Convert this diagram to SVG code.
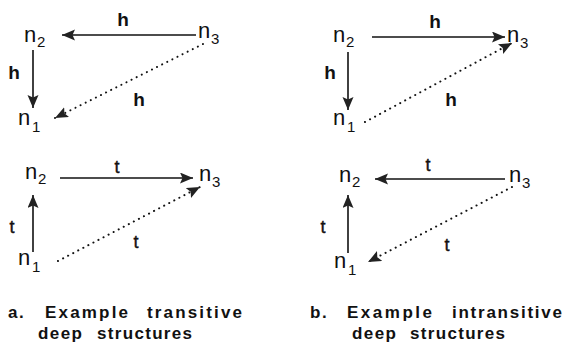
<svg xmlns="http://www.w3.org/2000/svg" width="565" height="346" viewBox="0 0 565 346">
<style>
.n{font-family:"Liberation Sans",Arial,sans-serif;font-size:22px;fill:#111}
.s{font-family:"Liberation Sans",Arial,sans-serif;font-size:15px;fill:#111}
.h{font-family:"Liberation Sans",Arial,sans-serif;font-size:19px;font-weight:bold;fill:#111;text-anchor:middle}
.t{font-family:"Liberation Sans",Arial,sans-serif;font-size:18px;fill:#111;text-anchor:middle;stroke:#111;stroke-width:0.4}
.c{font-family:"Liberation Sans",Arial,sans-serif;font-size:17px;font-weight:bold;fill:#111}
.solid{stroke:#111;stroke-width:1.6;fill:none}
.dot{stroke:#111;stroke-width:2;fill:none;stroke-linecap:round;stroke-dasharray:0.1 5.6}
</style>
<defs>
<marker id="ah" markerUnits="userSpaceOnUse" markerWidth="15" markerHeight="12" refX="13" refY="5.5" orient="auto">
<path d="M0,0 L13,5.5 L0,11 L2.5,5.5 Z" fill="#222"/>
</marker>
</defs>
<g id="connectors">
<line class="solid" x1="196" y1="35" x2="62" y2="35" marker-end="url(#ah)"/>
<line class="solid" x1="33" y1="50" x2="33" y2="108" marker-end="url(#ah)"/>
<line class="dot" x1="203" y1="44" x2="55" y2="118" marker-end="url(#ah)"/>
<line class="solid" x1="372" y1="37" x2="505" y2="37" marker-end="url(#ah)"/>
<line class="solid" x1="348" y1="52" x2="348" y2="110" marker-end="url(#ah)"/>
<line class="dot" x1="365" y1="122" x2="512" y2="43" marker-end="url(#ah)"/>
<line class="solid" x1="60" y1="178" x2="193" y2="178" marker-end="url(#ah)"/>
<line class="solid" x1="33" y1="252" x2="33" y2="195" marker-end="url(#ah)"/>
<line class="dot" x1="58" y1="261" x2="200" y2="187" marker-end="url(#ah)"/>
<line class="solid" x1="505" y1="179" x2="375" y2="179" marker-end="url(#ah)"/>
<line class="solid" x1="348" y1="253" x2="348" y2="195" marker-end="url(#ah)"/>
<line class="dot" x1="512" y1="187" x2="368" y2="262" marker-end="url(#ah)"/>
</g>
<g id="labels">
<text class="h" x="123" y="26">h</text>
<text class="h" x="14" y="79">h</text>
<text class="h" x="139" y="106">h</text>
<text class="h" x="435" y="28">h</text>
<text class="h" x="330" y="79">h</text>
<text class="h" x="451" y="106">h</text>
<text class="t" x="117" y="173">t</text>
<text class="t" x="12" y="233">t</text>
<text class="t" x="136" y="248">t</text>
<text class="t" x="428" y="171">t</text>
<text class="t" x="323" y="233">t</text>
<text class="t" x="447" y="251">t</text>
</g>
<g id="a-top-n2"><text class="n" x="24" y="42">n</text><text class="s" x="37" y="47">2</text></g>
<g id="a-top-n3"><text class="n" x="198" y="38">n</text><text class="s" x="211" y="44">3</text></g>
<g id="a-top-n1"><text class="n" x="18" y="125">n</text><text class="s" x="32" y="132">1</text></g>
<g id="b-top-n2"><text class="n" x="333" y="42">n</text><text class="s" x="346" y="47">2</text></g>
<g id="b-top-n3"><text class="n" x="507" y="42">n</text><text class="s" x="520" y="48">3</text></g>
<g id="b-top-n1"><text class="n" x="333" y="125">n</text><text class="s" x="347" y="132">1</text></g>
<g id="a-bot-n2"><text class="n" x="25" y="179">n</text><text class="s" x="38" y="184">2</text></g>
<g id="a-bot-n3"><text class="n" x="199" y="181">n</text><text class="s" x="212" y="187">3</text></g>
<g id="a-bot-n1"><text class="n" x="18" y="265">n</text><text class="s" x="32" y="272">1</text></g>
<g id="b-bot-n2"><text class="n" x="339" y="182">n</text><text class="s" x="352" y="187">2</text></g>
<g id="b-bot-n3"><text class="n" x="509" y="182">n</text><text class="s" x="522" y="188">3</text></g>
<g id="b-bot-n1"><text class="n" x="334" y="268">n</text><text class="s" x="348" y="275">1</text></g>
<g id="captions">
<text class="c" x="8" y="318" letter-spacing="1.5">a.</text>
<text class="c" x="45" y="318" textLength="83" lengthAdjust="spacing">Example</text>
<text class="c" x="147" y="318" textLength="95" lengthAdjust="spacing">transitive</text>
<text class="c" x="38" y="339" textLength="44" lengthAdjust="spacing">deep</text>
<text class="c" x="97" y="339" textLength="95" lengthAdjust="spacing">structures</text>
<text class="c" x="310" y="318" letter-spacing="1.5">b.</text>
<text class="c" x="347" y="318" textLength="85" lengthAdjust="spacing">Example</text>
<text class="c" x="452" y="318" textLength="110" lengthAdjust="spacing">intransitive</text>
<text class="c" x="352" y="339" textLength="44" lengthAdjust="spacing">deep</text>
<text class="c" x="410" y="339" textLength="95" lengthAdjust="spacing">structures</text>
</g>
</svg>
